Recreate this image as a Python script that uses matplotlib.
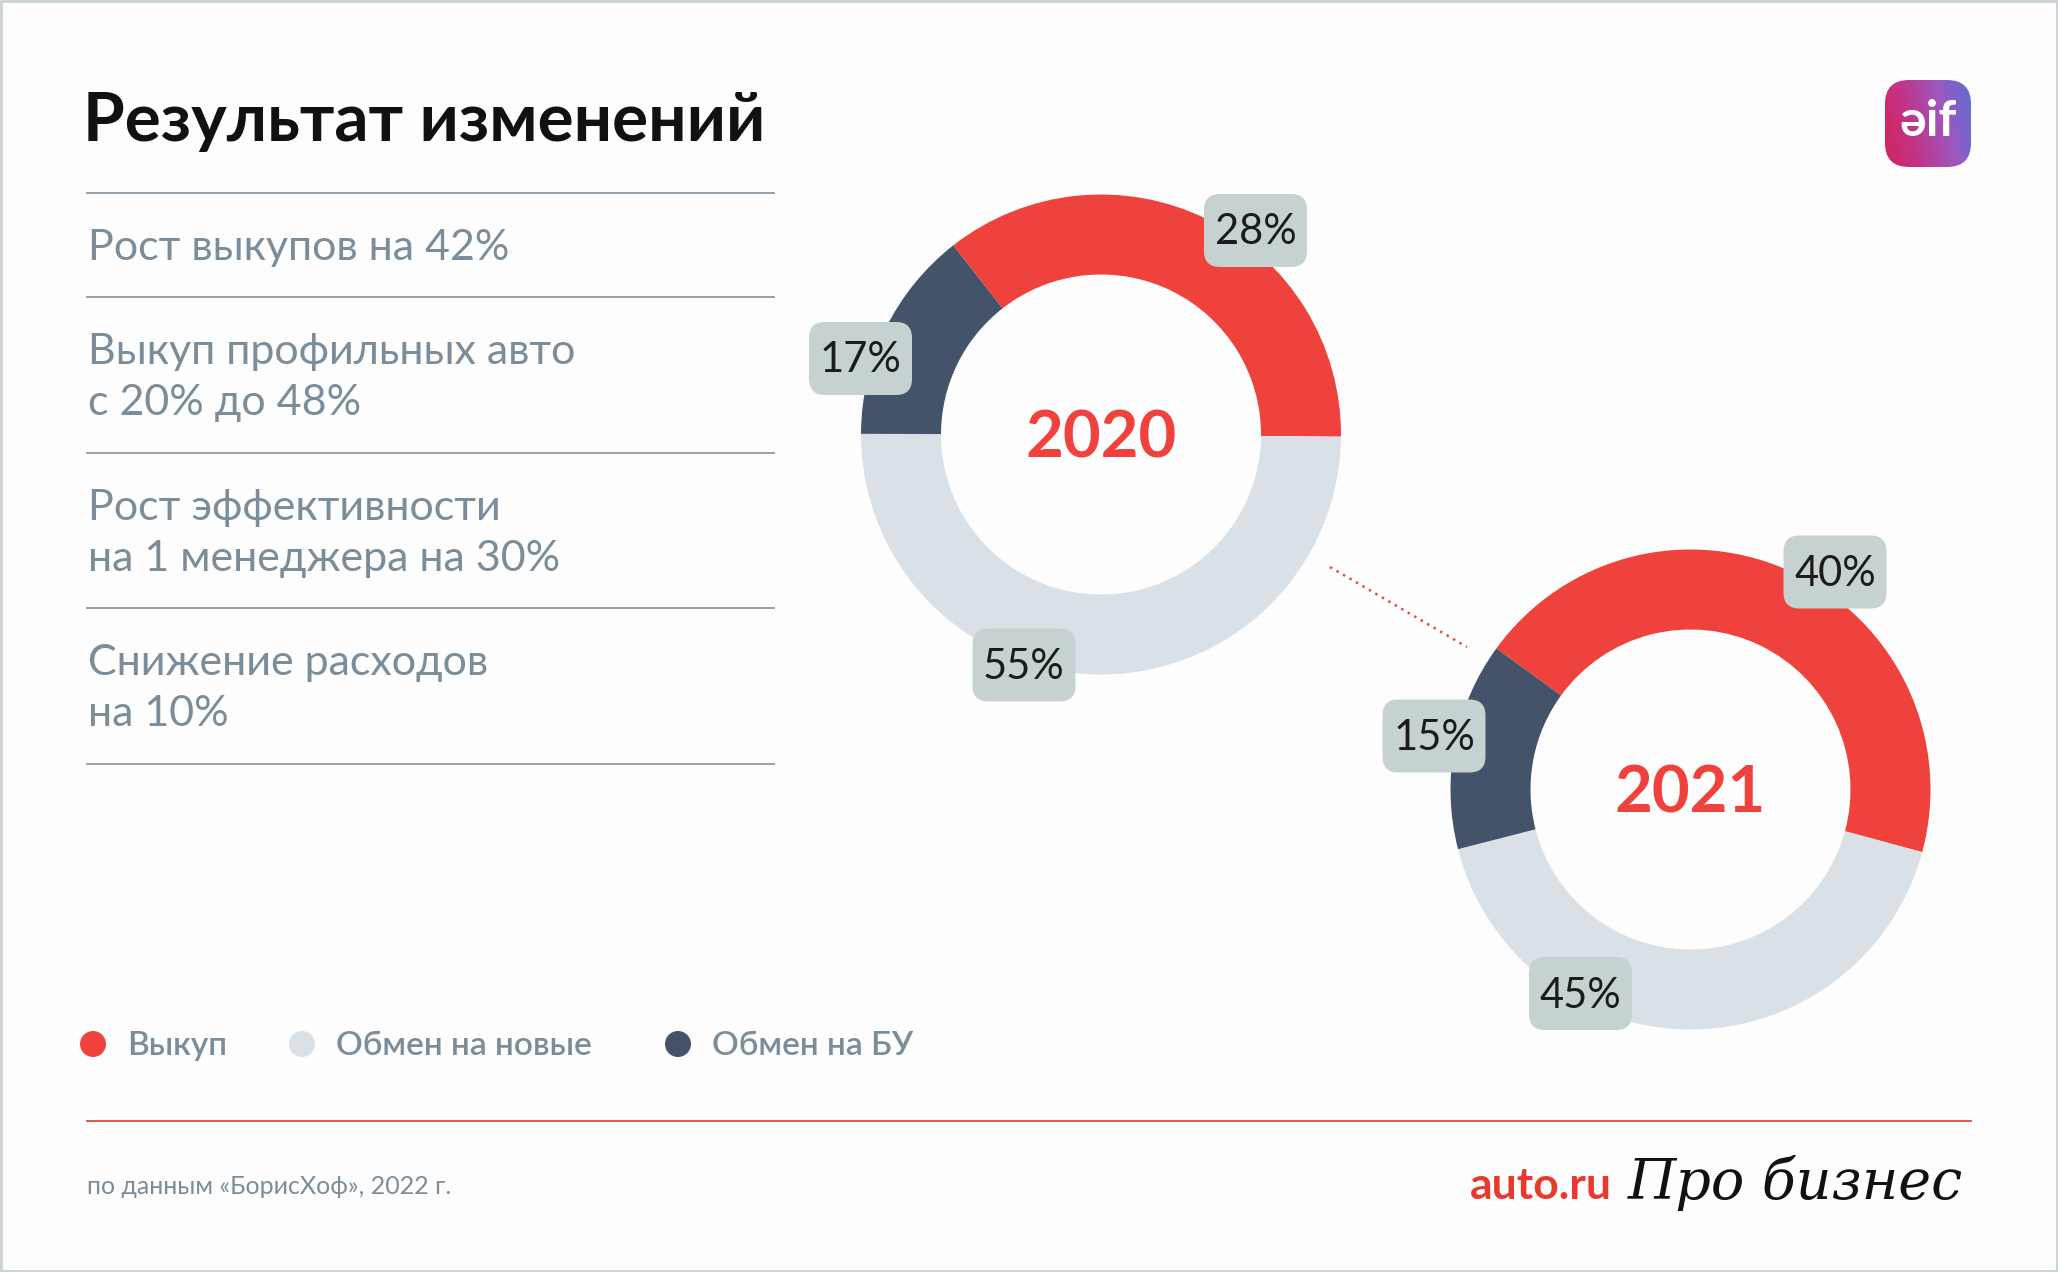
import matplotlib.pyplot as plt
import numpy as np
from matplotlib.patches import FancyBboxPatch, Circle, Rectangle
from matplotlib.colors import LinearSegmentedColormap

plt.rcParams['font.family'] = ['Lato', 'DejaVu Sans']

W, H = 2058, 1272

# --- data ---
categories = ["Выкуп", "Обмен на новые", "Обмен на БУ"]
colors = ["#ef423c", "#d9e1e7", "#435369"]
years = ["2020", "2021"]
labels_2020 = [28, 55, 17]
labels_2021 = [40, 45, 15]
# ring arcs as they are drawn in the artwork (not to scale with the labels)
arc_2020 = [35.7, 49.9, 14.4]
arc_2021 = [44.2, 41.8, 14.0]
facts = [
    "Рост выкупов на 42%",
    "Выкуп профильных авто\nс 20% до 48%",
    "Рост эффективности\nна 1 менеджера на 30%",
    "Снижение расходов\nна 10%",
]
source = "по данным «БорисХоф», 2022 г."

grey_text = "#7b8d9a"
red = "#ef423c"

fig = plt.figure(figsize=(W / 100, H / 100), dpi=100)
fig.patch.set_facecolor("#fdfdfd")

bg = fig.add_axes([0, 0, 1, 1])
bg.set_xlim(0, W)
bg.set_ylim(H, 0)
bg.axis("off")

# title
bg.text(83, 141, "Результат изменений", fontsize=48.6, fontweight="bold",
        color="#111111", va="baseline", ha="left")

# list of results with separators
sep_y = [193, 297, 453, 608, 764]
for y in sep_y:
    bg.plot([87, 774], [y, y], color="#8c9ba6", lw=1.3)
for i, fact in enumerate(facts):
    for j, line in enumerate(fact.split("\n")):
        bg.text(88, sep_y[i] + 67 + j * 51, line, fontsize=31, color=grey_text,
                va="baseline", ha="left")

# legend
leg_x = [93, 302, 678]
for x, c, name in zip(leg_x, colors, categories):
    bg.add_patch(Circle((x, 1044), 13, color=c, lw=0))
    bg.text(x + 34, 1055, name, fontsize=24, fontweight="semibold",
            color=grey_text, va="baseline", ha="left")

# footer
bg.plot([87, 1971], [1121, 1121], color="#e0483f", lw=1.3)
bg.text(87, 1186, source, fontsize=18, color=grey_text, va="center", ha="left")
bg.text(1612, 1186, "auto.ru", fontsize=32, fontweight="bold", color="#e8392f",
        va="center", ha="right")
bg.text(1628, 1183, "Про бизнес", fontsize=40, style="italic",
        family="DejaVu Serif", color="#111111", va="center", ha="left")

# dotted connector between the rings
bg.plot([1330, 1467], [567, 647], color="#e8483f", lw=1.8, linestyle=(0, (1, 2)))

# border
bg.add_patch(Rectangle((1, 1), W - 2, H - 2, fill=False, ec="#c9d3d3", lw=2))

# donuts
R = 240
centers = [(1101, 434.5), (1690.5, 789.5)]
starts = [128, 144]
for (cx, cy), arcs, start, year in zip(centers, [arc_2020, arc_2021], starts, years):
    ax = fig.add_axes([(cx - R) / W, 1 - (cy + R) / H, 2 * R / W, 2 * R / H])
    ax.pie(arcs, colors=colors, startangle=start, counterclock=False, radius=1,
           wedgeprops=dict(width=1 / 3, linewidth=0))
    ax.set_xlim(-1, 1)
    ax.set_ylim(-1, 1)
    ax.axis("off")
    ax.text(0, -0.02, year, fontsize=47, fontweight="bold", color=red,
            ha="center", va="center")

# overlay for value boxes and logo
top = fig.add_axes([0, 0, 1, 1])
top.set_zorder(10)
top.set_xlim(0, W)
top.set_ylim(H, 0)
top.axis("off")

box_pos = [
    [(1255.5, 230.5), (1024, 665), (860.5, 358.5)],
    [(1835, 572), (1580.5, 993.5), (1434, 736)],
]
for vals, poss in zip([labels_2020, labels_2021], box_pos):
    for v, (x, y) in zip(vals, poss):
        top.add_patch(FancyBboxPatch((x - 51.5, y - 36.5), 103, 73,
                                     boxstyle="round,pad=0,rounding_size=16",
                                     fc="#c6d2d1", ec="none"))
        top.text(x, y + 2, f"{v}%", fontsize=30, color="#1b1b1b",
                 ha="center", va="center")

# logo
logo = FancyBboxPatch((1885, 80), 86, 87, boxstyle="round,pad=0,rounding_size=24",
                      fc="none", ec="none")
top.add_patch(logo)
gx, gy = np.meshgrid(np.linspace(0, 1, 100), np.linspace(0, 1, 100))
grad = 0.8 * gx + 0.2 * (1 - gy)
cmap = LinearSegmentedColormap.from_list("aif", ["#d3235a", "#c1358a", "#9f56bd", "#5a70d8"])
img = top.imshow(grad, cmap=cmap, extent=(1885, 1971, 167, 80), origin="upper",
                 aspect="auto", zorder=2)
img.set_clip_path(logo)
top.text(1928, 121, "əif", fontsize=36, fontweight="bold", color="white",
         ha="center", va="center", zorder=3)
top.set_xlim(0, W)
top.set_ylim(H, 0)

fig.savefig("out.png", dpi=100)
